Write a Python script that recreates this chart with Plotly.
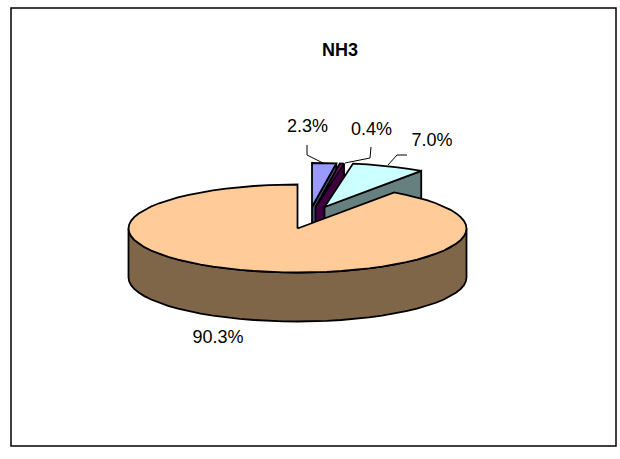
import numpy as np
import plotly.graph_objects as go

# Data
categories = ["A", "B", "C", "D"]
values = [2.3, 0.4, 7.0, 90.3]
labels = ["2.3%", "0.4%", "7.0%", "90.3%"]
title = "NH3"

# Style / layout constants (pixel canvas)
W, H = 620, 459
CX, CY, RX, RY, DEPTH = 297.5, 228.5, 169.0, 44.0, 49.0
EXPLODE = [(14.5, -21.5), (18.0, -21.5), (27.0, -21.5), (0.0, 0.0)]
TOP = ["#9999FF", "#800080", "#CCFFFF", "#FFCC99"]
SIDE = ["#4D4D80", "#400040", "#668080", "#806648"]
LEADERS = {
    0: [(323, 163), (307, 155), (307, 145)],
    1: [(345, 163), (370, 158), (371, 147)],
    2: [(388, 165), (397, 155), (407, 155)],
}
LABEL_POS = [(307.5, 127), (371.5, 130.5), (432, 141), (218, 338)]
INK = "#000000"

fig = go.Figure()


def poly(xs, ys, fill):
    fig.add_trace(go.Scatter(x=xs, y=ys, mode="lines", fill="toself", fillcolor=fill,
                             line=dict(color=INK, width=1.8), hoverinfo="skip", showlegend=False))


def arc(a0, a1, ox, oy):
    n = max(2, int(abs(a1 - a0) / 5) + 1)
    t = np.radians(np.linspace(a0, a1, n))
    return CX + ox + RX * np.sin(t), CY + oy - RY * np.cos(t)


# angular extents from the values, clockwise from 12 o'clock
total = sum(values)
edges = np.concatenate([[0.0], np.cumsum(values)]) / total * 360.0

# exploded slices first (they sit behind the big one)
for i in range(3):
    a0, a1 = edges[i], edges[i + 1]
    ox, oy = EXPLODE[i]
    ax, ay = CX + ox, CY + oy
    ex, ey = arc(a1, a1, ox, oy)
    poly([ax, ex[0], ex[0], ax, ax], [ay, ey[0], ey[0] + DEPTH, ay + DEPTH, ay], SIDE[i])
    xs, ys = arc(a0, a1, ox, oy)
    poly([ax, *xs, ax], [ay, *ys, ay], TOP[i])

# big slice: outer wall, then top
a0, a1 = edges[3], edges[4]
xs, ys = arc(90, 270, 0, 0)
poly([*xs, *xs[::-1], xs[0]], [*ys, *(ys[::-1] + DEPTH), ys[0]], SIDE[3])
xs, ys = arc(a0, a1, 0, 0)
poly([CX, *xs, CX], [CY, *ys, CY], TOP[3])

# leader lines
for pts in LEADERS.values():
    fig.add_trace(go.Scatter(x=[p[0] for p in pts], y=[p[1] for p in pts], mode="lines",
                             line=dict(color=INK, width=1), hoverinfo="skip", showlegend=False))

# labels
fig.add_trace(go.Scatter(x=[p[0] for p in LABEL_POS], y=[p[1] for p in LABEL_POS], mode="text",
                         text=labels, textposition="middle center",
                         textfont=dict(family="Liberation Sans", size=18, color="#000000"),
                         hoverinfo="skip", showlegend=False))
fig.add_annotation(x=339.5, y=50, text="<b>%s</b>" % title, showarrow=False,
                   font=dict(family="Liberation Sans", size=18, color="#000000"))

# chart frame
fig.add_shape(type="rect", x0=11, y0=8, x1=616, y1=446, line=dict(color=INK, width=1.5), layer="below")

fig.update_layout(
    width=W, height=H, margin=dict(l=0, r=0, t=0, b=0),
    paper_bgcolor="white", plot_bgcolor="white", showlegend=False,
    xaxis=dict(range=[0, W], visible=False, fixedrange=True),
    yaxis=dict(range=[H, 0], visible=False, fixedrange=True),
)
fig.write_html("out.html", config={"displayModeBar": False}, post_script="document.body.style.margin='0';")
